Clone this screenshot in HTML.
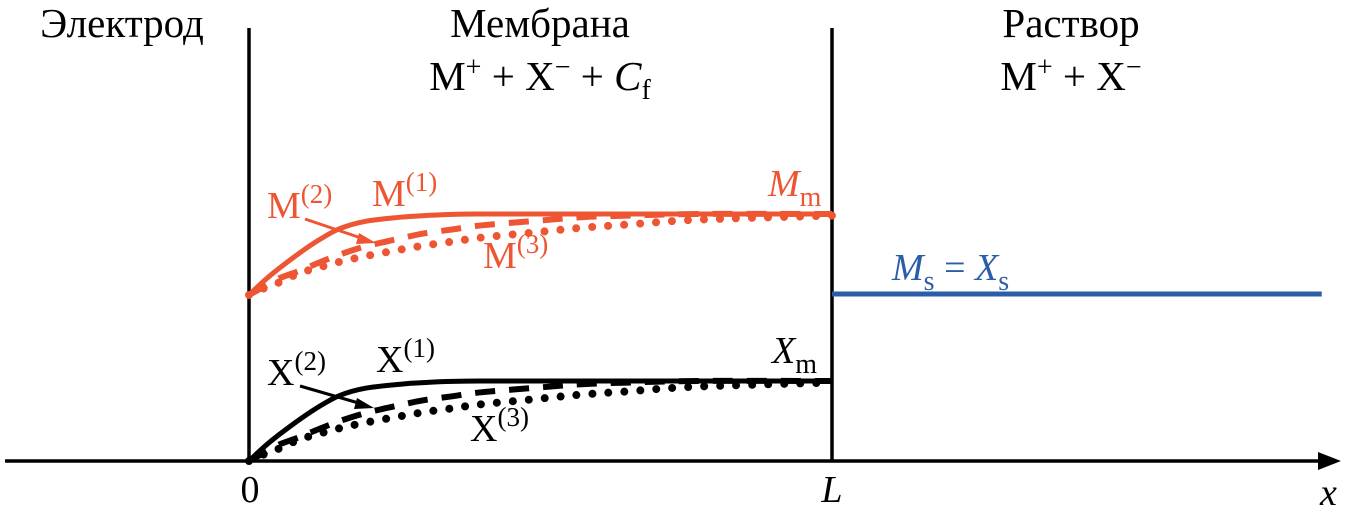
<!DOCTYPE html>
<html><head><meta charset="utf-8"><style>
html,body{margin:0;padding:0;background:#fff;}
svg{display:block;font-family:"Liberation Serif",serif;}
</style></head><body>
<svg id="chart" width="1364" height="513" viewBox="0 0 1364 513">
<g>
<line x1="5" y1="461" x2="1322" y2="461" stroke="#000" stroke-width="3.5"/>
<path d="M1318,452 L1341,461 L1318,470 Z" fill="#000"/>
<text x="250" y="502" font-size="38" text-anchor="middle">0</text>
<text x="832" y="502" font-size="38" font-style="italic" text-anchor="middle">L</text>
<text x="1320" y="505" font-size="38" font-style="italic">x</text>
</g>
<line x1="249" y1="28" x2="249" y2="461" stroke="#000" stroke-width="3.5"/>
<line x1="832" y1="28" x2="832" y2="461" stroke="#000" stroke-width="3.5"/>
<g font-size="41" text-anchor="middle">
<text x="122" y="37">Электрод</text>
<text x="540" y="37">Мембрана</text>
<text x="540" y="90">M<tspan dy="-14" font-size="28">+</tspan><tspan dy="14"> + X</tspan><tspan dy="-14" font-size="28">−</tspan><tspan dy="14"> + </tspan><tspan font-style="italic">C</tspan><tspan dy="9" font-size="28">f</tspan></text>
<text x="1071" y="37">Раствор</text>
<text x="1071" y="90">M<tspan dy="-14" font-size="28">+</tspan><tspan dy="14"> + X</tspan><tspan dy="-14" font-size="28">−</tspan></text>
</g>
<g id="series"></g>
<g font-size="38">
<text x="267" y="218" fill="#ee5533">M<tspan dy="-15" font-size="27">(2)</tspan></text>
<text x="372" y="206" fill="#ee5533">M<tspan dy="-15" font-size="27">(1)</tspan></text>
<text x="483" y="268" fill="#ee5533">M<tspan dy="-15" font-size="27">(3)</tspan></text>
<text x="768" y="196" fill="#ee5533" font-style="italic">M<tspan dy="10" font-size="28" font-style="normal">m</tspan></text>
<text x="892" y="280" fill="#2a5ea8" font-style="italic">M<tspan dy="10" font-size="28" font-style="normal">s</tspan><tspan dy="-10" font-style="normal"> = </tspan>X<tspan dy="10" font-size="28" font-style="normal">s</tspan></text>
<text x="267" y="385">X<tspan dy="-15" font-size="27">(2)</tspan></text>
<text x="376" y="372">X<tspan dy="-15" font-size="27">(1)</tspan></text>
<text x="470" y="441">X<tspan dy="-15" font-size="27">(3)</tspan></text>
<text x="772" y="363" font-style="italic">X<tspan dy="10" font-size="28" font-style="normal">m</tspan></text>
</g>
<line x1="305" y1="219" x2="364" y2="239" stroke="#ee5533" stroke-width="3"/>
<path d="M376,243 L359,233 L356,244 Z" fill="#ee5533"/>
<line x1="300" y1="386" x2="362" y2="404" stroke="#000" stroke-width="3"/>
<path d="M374,408 L357,398 L354,409 Z" fill="#000"/>
</svg>
<script>
const xFrac = [0, 0.025, 0.05, 0.087, 0.12, 0.156, 0.2, 0.26, 0.3, 0.35, 0.4, 0.5, 0.57, 0.65, 0.77, 1.0];
const solidFrac = [0, 0.17, 0.32, 0.52, 0.68, 0.82, 0.91, 0.96, 0.98, 0.995, 1.0, 1.0, 1.0, 1.0, 1.0, 1.0];
const dashFrac = [0, 0.1, 0.2, 0.3, 0.4, 0.5, 0.6, 0.7, 0.76, 0.81, 0.86, 0.92, 0.96, 0.98, 1.0, 1.0];
const dotFrac = [0, 0.08, 0.15, 0.27, 0.34, 0.41, 0.48, 0.56, 0.61, 0.66, 0.71, 0.78, 0.83, 0.87, 0.93, 0.98];
const mBase = 0.672, mPlateau = 1.0;
const xBase = 0.0, xPlateau = 0.324;
const solutionLevel = 0.676;
const solutionEnd = 1.84;
const X = f => 249 + f * 583;
const Y = v => 461 - v * 247;
const ns = "http://www.w3.org/2000/svg";
const g = document.getElementById('series');
function curve(fracs, base, plat, color, dash, name, w) {
  const pts = xFrac.map((xf, i) => [X(xf), Y(base + (plat - base) * fracs[i])]);
  let d = 'M' + pts[0][0].toFixed(1) + ',' + pts[0][1].toFixed(1);
  for (let i = 0; i < pts.length - 1; i++) {
    const p0 = pts[Math.max(0, i - 1)], p1 = pts[i], p2 = pts[i + 1], p3 = pts[Math.min(pts.length - 1, i + 2)];
    const c1x = p1[0] + (p2[0] - p0[0]) / 6, c1y = p1[1] + (p2[1] - p0[1]) / 6;
    const c2x = p2[0] - (p3[0] - p1[0]) / 6, c2y = p2[1] - (p3[1] - p1[1]) / 6;
    d += 'C' + c1x.toFixed(1) + ',' + c1y.toFixed(1) + ' ' + c2x.toFixed(1) + ',' + c2y.toFixed(1) + ' ' + p2[0].toFixed(1) + ',' + p2[1].toFixed(1);
  }
  const p = document.createElementNS(ns, 'path');
  p.setAttribute('d', d);
  p.setAttribute('fill', 'none');
  p.setAttribute('stroke', color);
  p.setAttribute('stroke-width', w);
  p.setAttribute('stroke-linejoin', 'round');
  if (dash) { p.setAttribute('stroke-dasharray', dash); p.setAttribute('stroke-linecap', dash.startsWith('0') ? 'round' : 'butt'); }
  
  
  g.appendChild(p);
}
curve(dotFrac, mBase, mPlateau, '#ee5533', '0 16', 'm3-dotted-curve', 8);
curve(dashFrac, mBase, mPlateau, '#ee5533', '20 14', 'm2-dashed-curve', 6);
curve(solidFrac, mBase, mPlateau, '#ee5533', null, 'm1-solid-curve', 5);
curve(dotFrac, xBase, xPlateau, '#000', '0 16', 'x3-dotted-curve', 8);
curve(dashFrac, xBase, xPlateau, '#000', '20 14', 'x2-dashed-curve', 6);
curve(solidFrac, xBase, xPlateau, '#000', null, 'x1-solid-curve', 5);
const bl = document.createElementNS(ns, 'line');
bl.setAttribute('x1', X(1)); bl.setAttribute('x2', X(solutionEnd));
bl.setAttribute('y1', Y(solutionLevel)); bl.setAttribute('y2', Y(solutionLevel));
bl.setAttribute('stroke', '#2a5ea8'); bl.setAttribute('stroke-width', 5);


g.appendChild(bl);
</script>
</body></html>
